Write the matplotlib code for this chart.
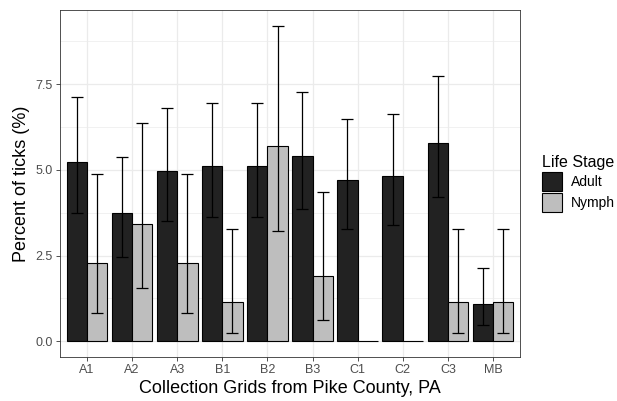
import matplotlib.pyplot as plt
import numpy as np

plt.rcParams['font.family'] = ['Liberation Sans', 'DejaVu Sans']

grids = ['A1', 'A2', 'A3', 'B1', 'B2', 'B3', 'C1', 'C2', 'C3', 'MB']

# percent of ticks, with lower / upper bounds of the error bars
adult = [5.24, 3.73, 4.97, 5.12, 5.12, 5.39, 4.70, 4.83, 5.79, 1.10]
adult_lo = [3.74, 2.46, 3.50, 3.61, 3.61, 3.86, 3.28, 3.40, 4.21, 0.47]
adult_hi = [7.12, 5.37, 6.81, 6.96, 6.96, 7.28, 6.49, 6.64, 7.73, 2.15]

nymph = [2.29, 3.41, 2.29, 1.13, 5.68, 1.90, 0.0, 0.0, 1.13, 1.13]
nymph_lo = [0.83, 1.56, 0.83, 0.23, 3.21, 0.62, np.nan, np.nan, 0.23, 0.23]
nymph_hi = [4.87, 6.36, 4.87, 3.28, 9.20, 4.35, np.nan, np.nan, 3.28, 3.28]

fig = plt.figure(figsize=(6.17, 4.01), dpi=100)
ax = fig.add_axes([0.0972, 0.1097, 0.7456, 0.8653])

x = np.arange(len(grids))
w = 0.45

ax.bar(x - w / 2, adult, width=w, color='#222222', edgecolor='black', linewidth=0.8, zorder=2, label='Adult')
ax.bar(x + w / 2, nymph, width=w, color='#BEBEBE', edgecolor='black', linewidth=0.8, zorder=2, label='Nymph')

a = np.array(adult)
n = np.array(nymph)
ax.errorbar(x - w / 2, a, yerr=[a - np.array(adult_lo), np.array(adult_hi) - a],
            fmt='none', ecolor='black', elinewidth=0.9, capsize=4, capthick=0.9, zorder=3)
ax.errorbar(x + w / 2, n, yerr=[n - np.array(nymph_lo), np.array(nymph_hi) - n],
            fmt='none', ecolor='black', elinewidth=0.9, capsize=4, capthick=0.9, zorder=3)

ax.set_xlim(-0.6, len(grids) - 0.4)
ax.set_ylim(-0.46, 9.66)
ax.set_xticks(x)
ax.set_xticklabels(grids)
ax.set_yticks([0, 2.5, 5.0, 7.5])
ax.set_yticklabels(['0.0', '2.5', '5.0', '7.5'])
ax.set_yticks([1.25, 3.75, 6.25, 8.75], minor=True)

ax.grid(True, which='major', color='#EBEBEB', linewidth=0.9, zorder=0)
ax.grid(True, which='minor', axis='y', color='#EBEBEB', linewidth=0.5, zorder=0)
ax.set_axisbelow(True)
ax.tick_params(axis='both', which='major', length=3, width=0.6, color='#333333',
               labelcolor='#4D4D4D', labelsize=9, pad=2)
ax.tick_params(which='minor', length=0)
for s in ax.spines.values():
    s.set_color('#333333')
    s.set_linewidth(0.6)

ax.set_xlabel('Collection Grids from Pike County, PA', fontsize=13, labelpad=3)
ax.set_ylabel('Percent of ticks (%)', fontsize=13, labelpad=4)

leg = ax.legend(title='Life Stage', loc='center left', bbox_to_anchor=(1.048, 0.5),
                frameon=False, fontsize=10, title_fontsize=11.5, handlelength=1.45,
                handleheight=1.75, labelspacing=0.12, handletextpad=0.6,
                borderaxespad=0, borderpad=0)
leg._legend_box.align = 'left'

fig.savefig('out.png', dpi=100)
